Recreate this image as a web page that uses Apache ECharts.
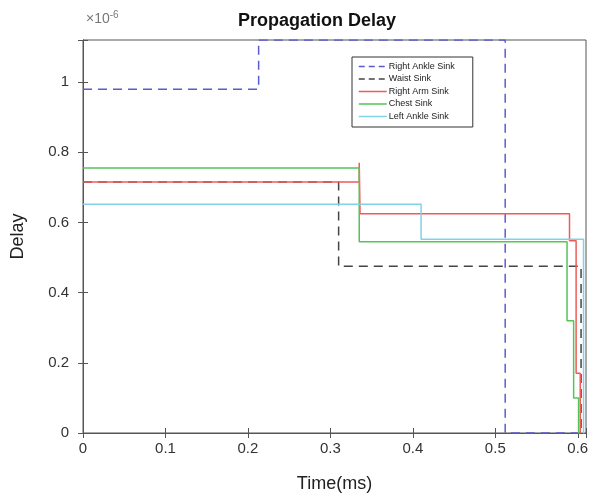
<!DOCTYPE html>
<html>
<head>
<meta charset="utf-8">
<script src="https://cdn.jsdelivr.net/npm/echarts@6/dist/echarts.min.js"></script>
<style>
  html, body { margin: 0; padding: 0; background: #fff; }
  #chart { width: 592px; height: 499px; }
</style>
</head>
<body>
<div id="chart"></div>
<script>
// 数据(单位 ×10^-6),每个点的值保持到下一个点(step: end)
var seriesNames = ['Right Ankle Sink', 'Waist Sink', 'Right Arm Sink', 'Chest Sink', 'Left Ankle Sink'];
var rightAnkle = [[0, 0.98], [0.213, 1.12], [0.512, 0], [0.603, 0]];
var waist = [[0, 0.715], [0.31, 0.475], [0.604, 0], [0.605, 0]];
var rightArm = [[0, 0.715], [0.335, 0.77], [0.336, 0.625], [0.59, 0.548], [0.598, 0.17], [0.603, 0], [0.604, 0]];
var chest = [[0, 0.755], [0.335, 0.545], [0.587, 0.32], [0.595, 0.1], [0.601, 0], [0.602, 0]];
var leftAnkle = [[0, 0.652], [0.41, 0.552], [0.607, 0], [0.608, 0]];
var xTicks = ['0', '0.1', '0.2', '0.3', '0.4', '0.5', '0.6'];
var yTicks = ['0', '0.2', '0.4', '0.6', '0.8', '1'];

var font = 'Liberation Sans, Arial, sans-serif';
var chart = echarts.init(document.getElementById('chart'));

// 只显示刻度表里的标签,max 处不显示
function tickLabel(list) {
  return function (v) {
    var s = String(Math.round(v * 10) / 10);
    return list.indexOf(s) >= 0 && Math.abs(v - Number(s)) < 1e-6 ? s : '';
  };
}

function makeSeries(name, data, color, type) {
  return {
    name: name,
    type: 'line',
    step: 'end',
    symbol: 'none',
    data: data,
    lineStyle: { color: color, width: 1.5, type: type },
    itemStyle: { color: color }
  };
}

var colors = ['#5b5bd0', '#444444', '#f05a5a', '#55c455', '#80d2e6'];
var dashes = [[9, 6], [9, 6], 'solid', 'solid', 'solid'];

var legendData = seriesNames.map(function (n, i) {
  return { name: n, lineStyle: { color: colors[i], type: i < 2 ? [6, 4] : 'solid', width: 1.5 } };
});

var option = {
  animation: false,
  title: {
    text: 'Propagation Delay',
    left: 233,
    top: 7,
    textStyle: { fontFamily: font, fontSize: 18, fontWeight: 'bold', color: '#111' }
  },
  graphic: [{
    type: 'text',
    left: 86,
    top: 10,
    style: {
      text: '×10{s|-6}',
      fontFamily: font, fontSize: 14, fill: '#777',
      rich: { s: { fontSize: 10, verticalAlign: 'top', fill: '#777', padding: [0, 0, 8, 0] } }
    }
  }],
  legend: {
    orient: 'vertical',
    left: 352,
    top: 57,
    width: 133,
    padding: [5, 18, 6, 6],
    itemGap: 3.5,
    itemWidth: 28,
    itemHeight: 10,
    borderColor: '#333',
    borderWidth: 1,
    backgroundColor: '#fff',
    itemStyle: { opacity: 0 },
    textStyle: { fontFamily: font, fontSize: 9, color: '#222', padding: [0, 0, 0, -3] },
    data: legendData
  },
  grid: {
    left: 83, right: 6, top: 40, bottom: 66,
    show: true, borderColor: '#555', borderWidth: 1
  },
  xAxis: [{
    type: 'value', min: 0, max: 0.61, interval: 0.1,
    name: 'Time(ms)', nameLocation: 'middle', nameGap: 42,
    nameTextStyle: { fontFamily: font, fontSize: 18, color: '#222' },
    axisLine: { lineStyle: { color: '#555' } },
    axisTick: { inside: true, length: 5, lineStyle: { color: '#555' } },
    axisLabel: {
      fontFamily: font, fontSize: 15, color: '#333', margin: 8,
      formatter: tickLabel(xTicks)
    },
    splitLine: { show: false }
  }, {
    type: 'value', min: 0, max: 0.61, interval: 0.1, position: 'top',
    axisLine: { show: true, lineStyle: { color: '#555' } },
    axisTick: { show: true, inside: true, length: 5, lineStyle: { color: '#555' } },
    axisLabel: { show: false },
    splitLine: { show: false }
  }],
  yAxis: [{
    type: 'value', min: 0, max: 1.12, interval: 0.2,
    name: 'Delay', nameLocation: 'middle', nameGap: 56,
    nameTextStyle: { fontFamily: font, fontSize: 18, color: '#222' },
    axisLine: { show: true, lineStyle: { color: '#555' } },
    axisTick: { show: true, inside: true, length: 5, lineStyle: { color: '#555' } },
    axisLabel: {
      fontFamily: font, fontSize: 15, color: '#333', margin: 14,
      formatter: tickLabel(yTicks)
    },
    splitLine: { show: false }
  }, {
    type: 'value', min: 0, max: 1.12, interval: 0.2, position: 'right',
    axisLine: { show: true, lineStyle: { color: '#555' } },
    axisTick: { show: true, inside: true, length: 5, lineStyle: { color: '#555' } },
    axisLabel: { show: false },
    splitLine: { show: false }
  }],
  series: seriesNames.map(function (n, i) {
    return makeSeries(n, [rightAnkle, waist, rightArm, chest, leftAnkle][i], colors[i], dashes[i]);
  })
};
chart.setOption(option);
</script>
</body>
</html>
